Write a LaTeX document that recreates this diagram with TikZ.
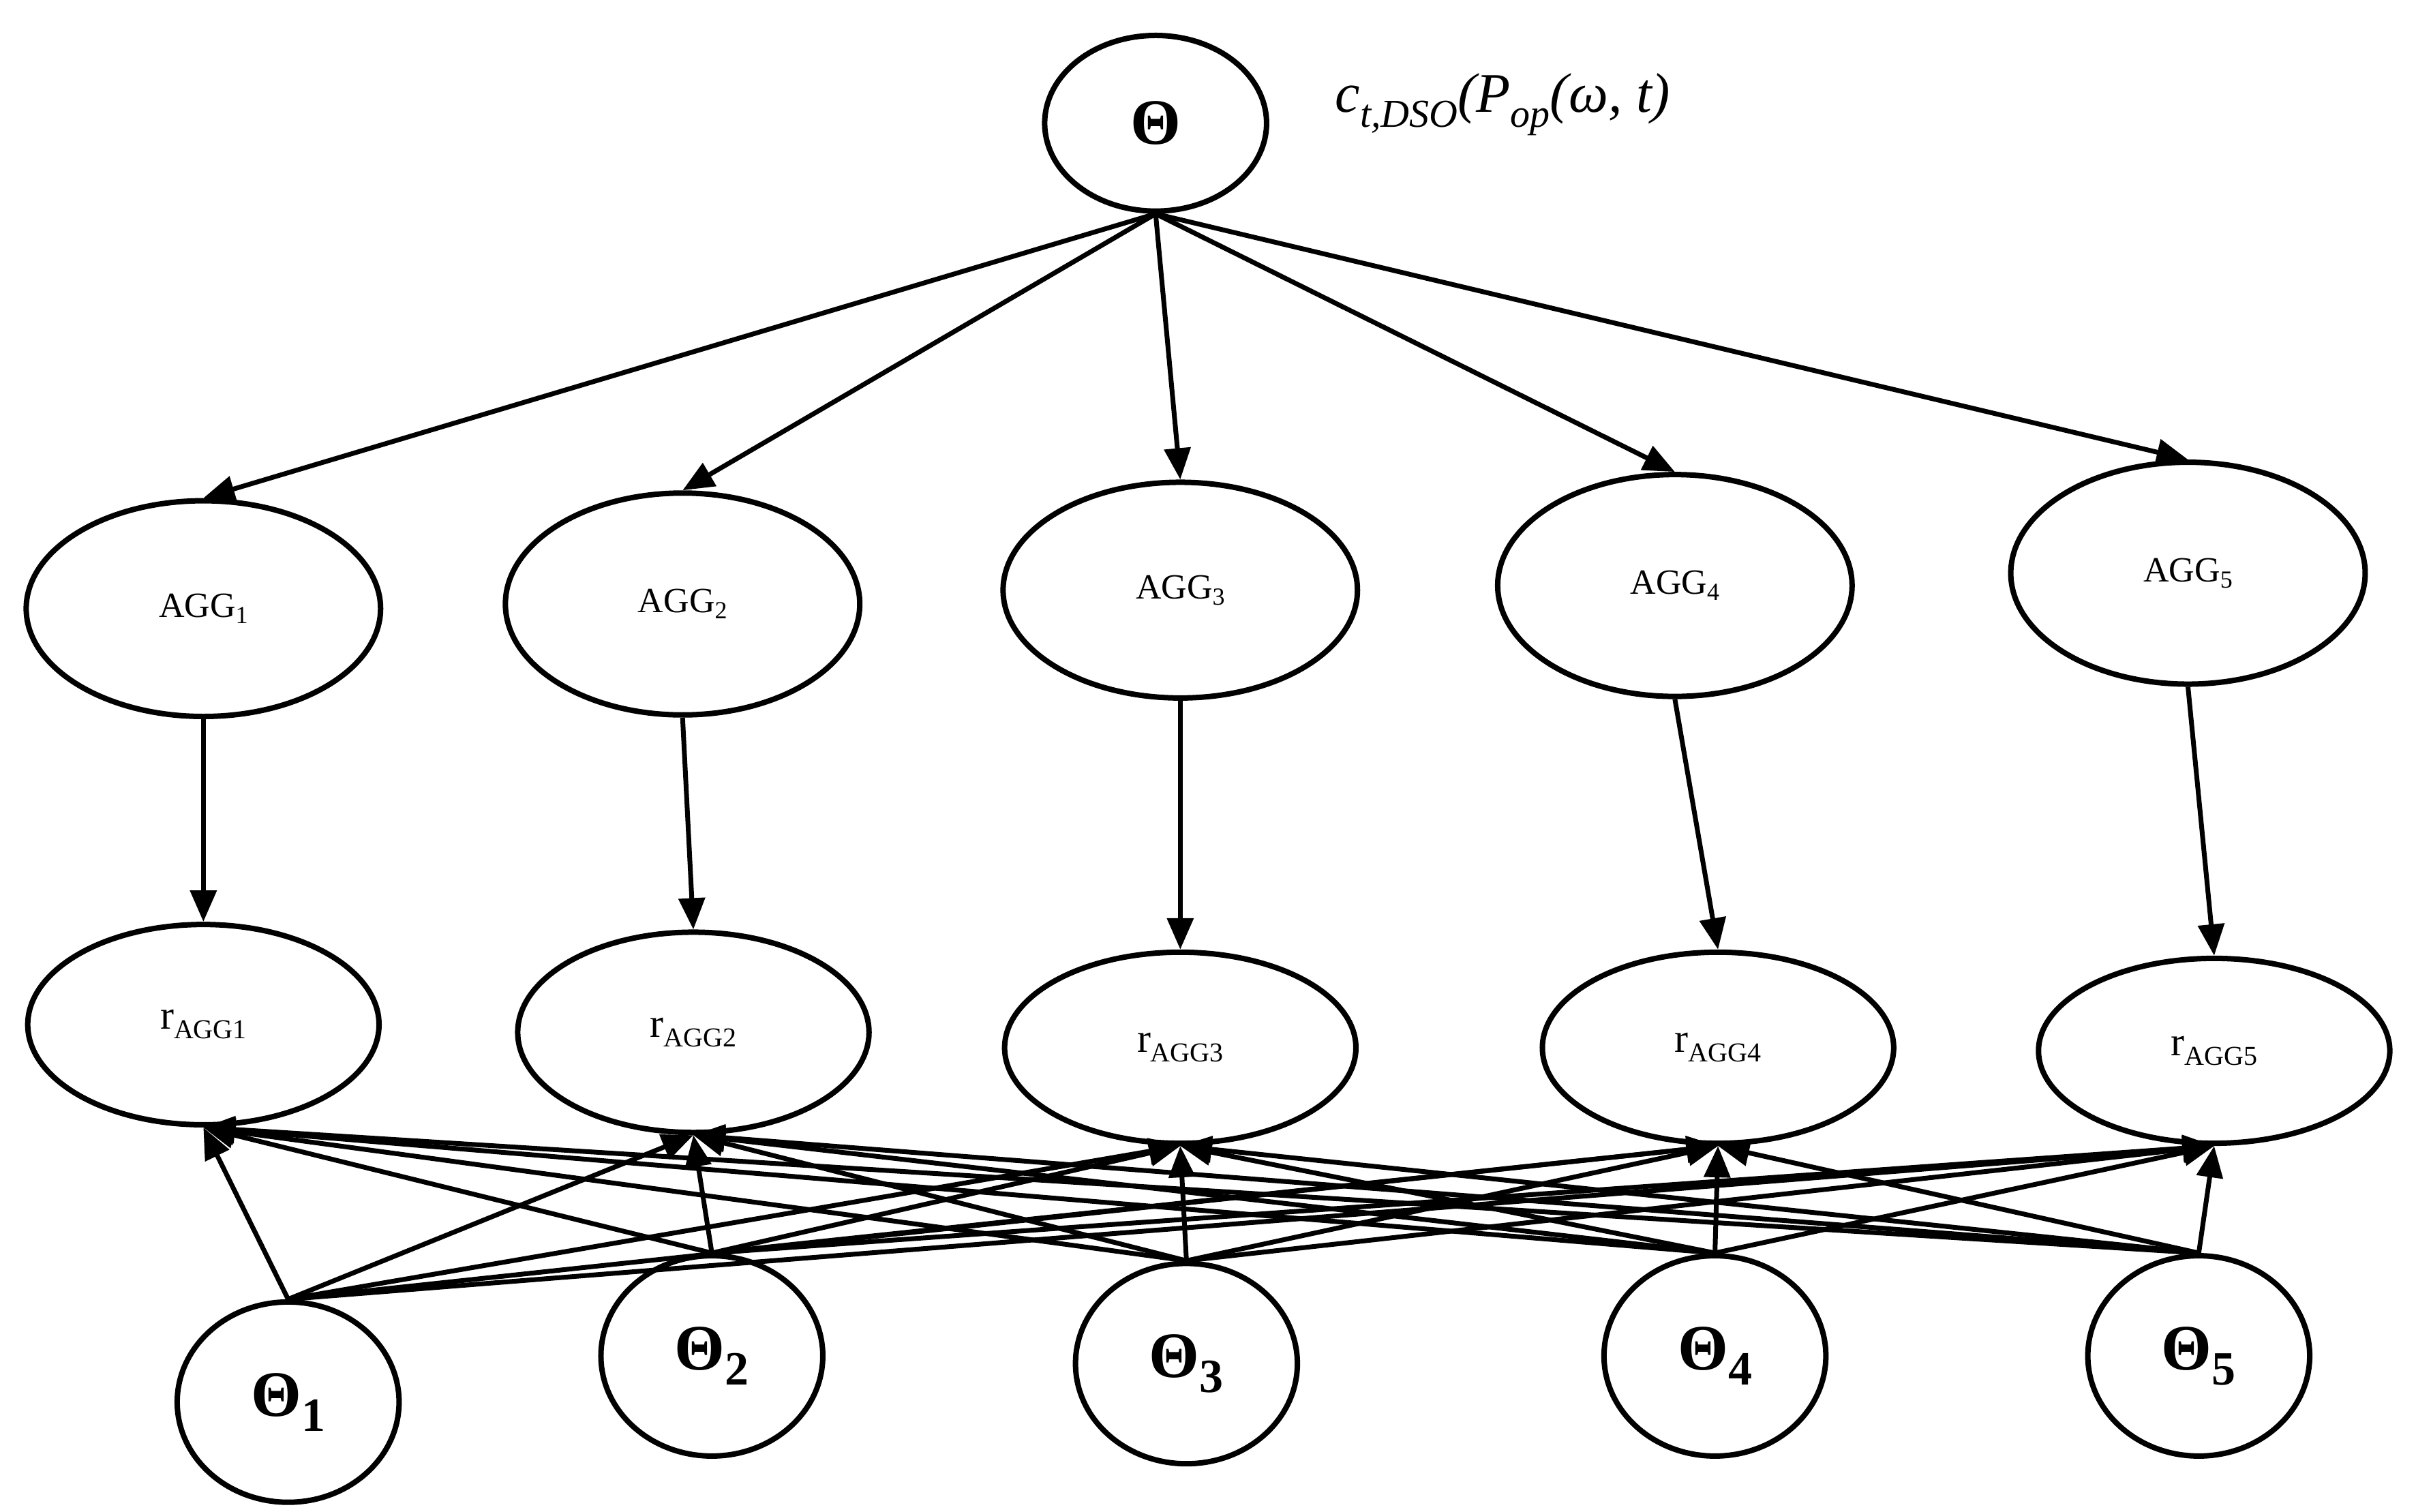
\documentclass[tikz,border=0pt]{standalone}
\usepackage{fontspec}
\setmainfont{Liberation Serif}
\usetikzlibrary{arrows.meta,shapes.geometric}
\begin{document}
\begin{tikzpicture}[x=2.26pt,y=-2.26pt,
  ell/.style={draw,ellipse,line width=8pt,inner sep=0pt},
  arr/.style={line width=7pt,-{Triangle[length=46pt,width=38pt]}},
  agg/.style={font=\fontsize{52}{60}\selectfont},
  th/.style={font=\fontsize{95}{110}\selectfont\bfseries}]
\useasboundingbox (0,0) rectangle (1568,981);
\node[ell,minimum width=2*72*2.26pt,minimum height=2*57*2.26pt,th] (T) at (750,80) {Θ};
\node[anchor=west,font=\fontsize{82}{90}\selectfont\itshape] (F) at (865,68) {c{\fontsize{58}{64}\selectfont\raisebox{-22pt}{t,DSO}}(P{\fontsize{58}{64}\selectfont\raisebox{-22pt}{op}}(ω, t)};
\foreach \i/\x/\y/\ry in {1/132/395/70,2/443/392/72,3/766/383/70,4/1087/380/72,5/1420/372/72}{
  \node[ell,agg,minimum width=2*115*2.26pt,minimum height=2*\ry*2.26pt] (A\i) at (\x,\y) {AGG{\fontsize{36}{40}\selectfont\raisebox{-9pt}{\i}}};
}
\foreach \i/\x/\y/\ry in {1/132/665/65,2/450/670/65,3/766/680/62,4/1115/680/62,5/1437/682/60}{
  \node[ell,font=\fontsize{60}{70}\selectfont,minimum width=2*114*2.26pt,minimum height=2*\ry*2.26pt] (R\i) at (\x,\y) {r{\fontsize{40}{46}\selectfont\raisebox{-14pt}{AGG\i}}};
}
\foreach \i/\x/\y in {1/187/910,2/462/880,3/770/885,4/1113/880,5/1427/880}{
  \node[ell,th,minimum width=2*72*2.26pt,minimum height=2*65*2.26pt] (B\i) at (\x,\y) {Θ{\fontsize{70}{80}\selectfont\raisebox{-22pt}{\i}}};
}
\foreach \i in {1,...,5}{
  \draw[arr] (T.south) -- (A\i.north);
  \draw[arr] (A\i.south) -- (R\i.north);
  \foreach \j in {1,...,5}{
    \draw[arr] (B\i.north) -- (R\j.south);
  }
}
\end{tikzpicture}
\end{document}
